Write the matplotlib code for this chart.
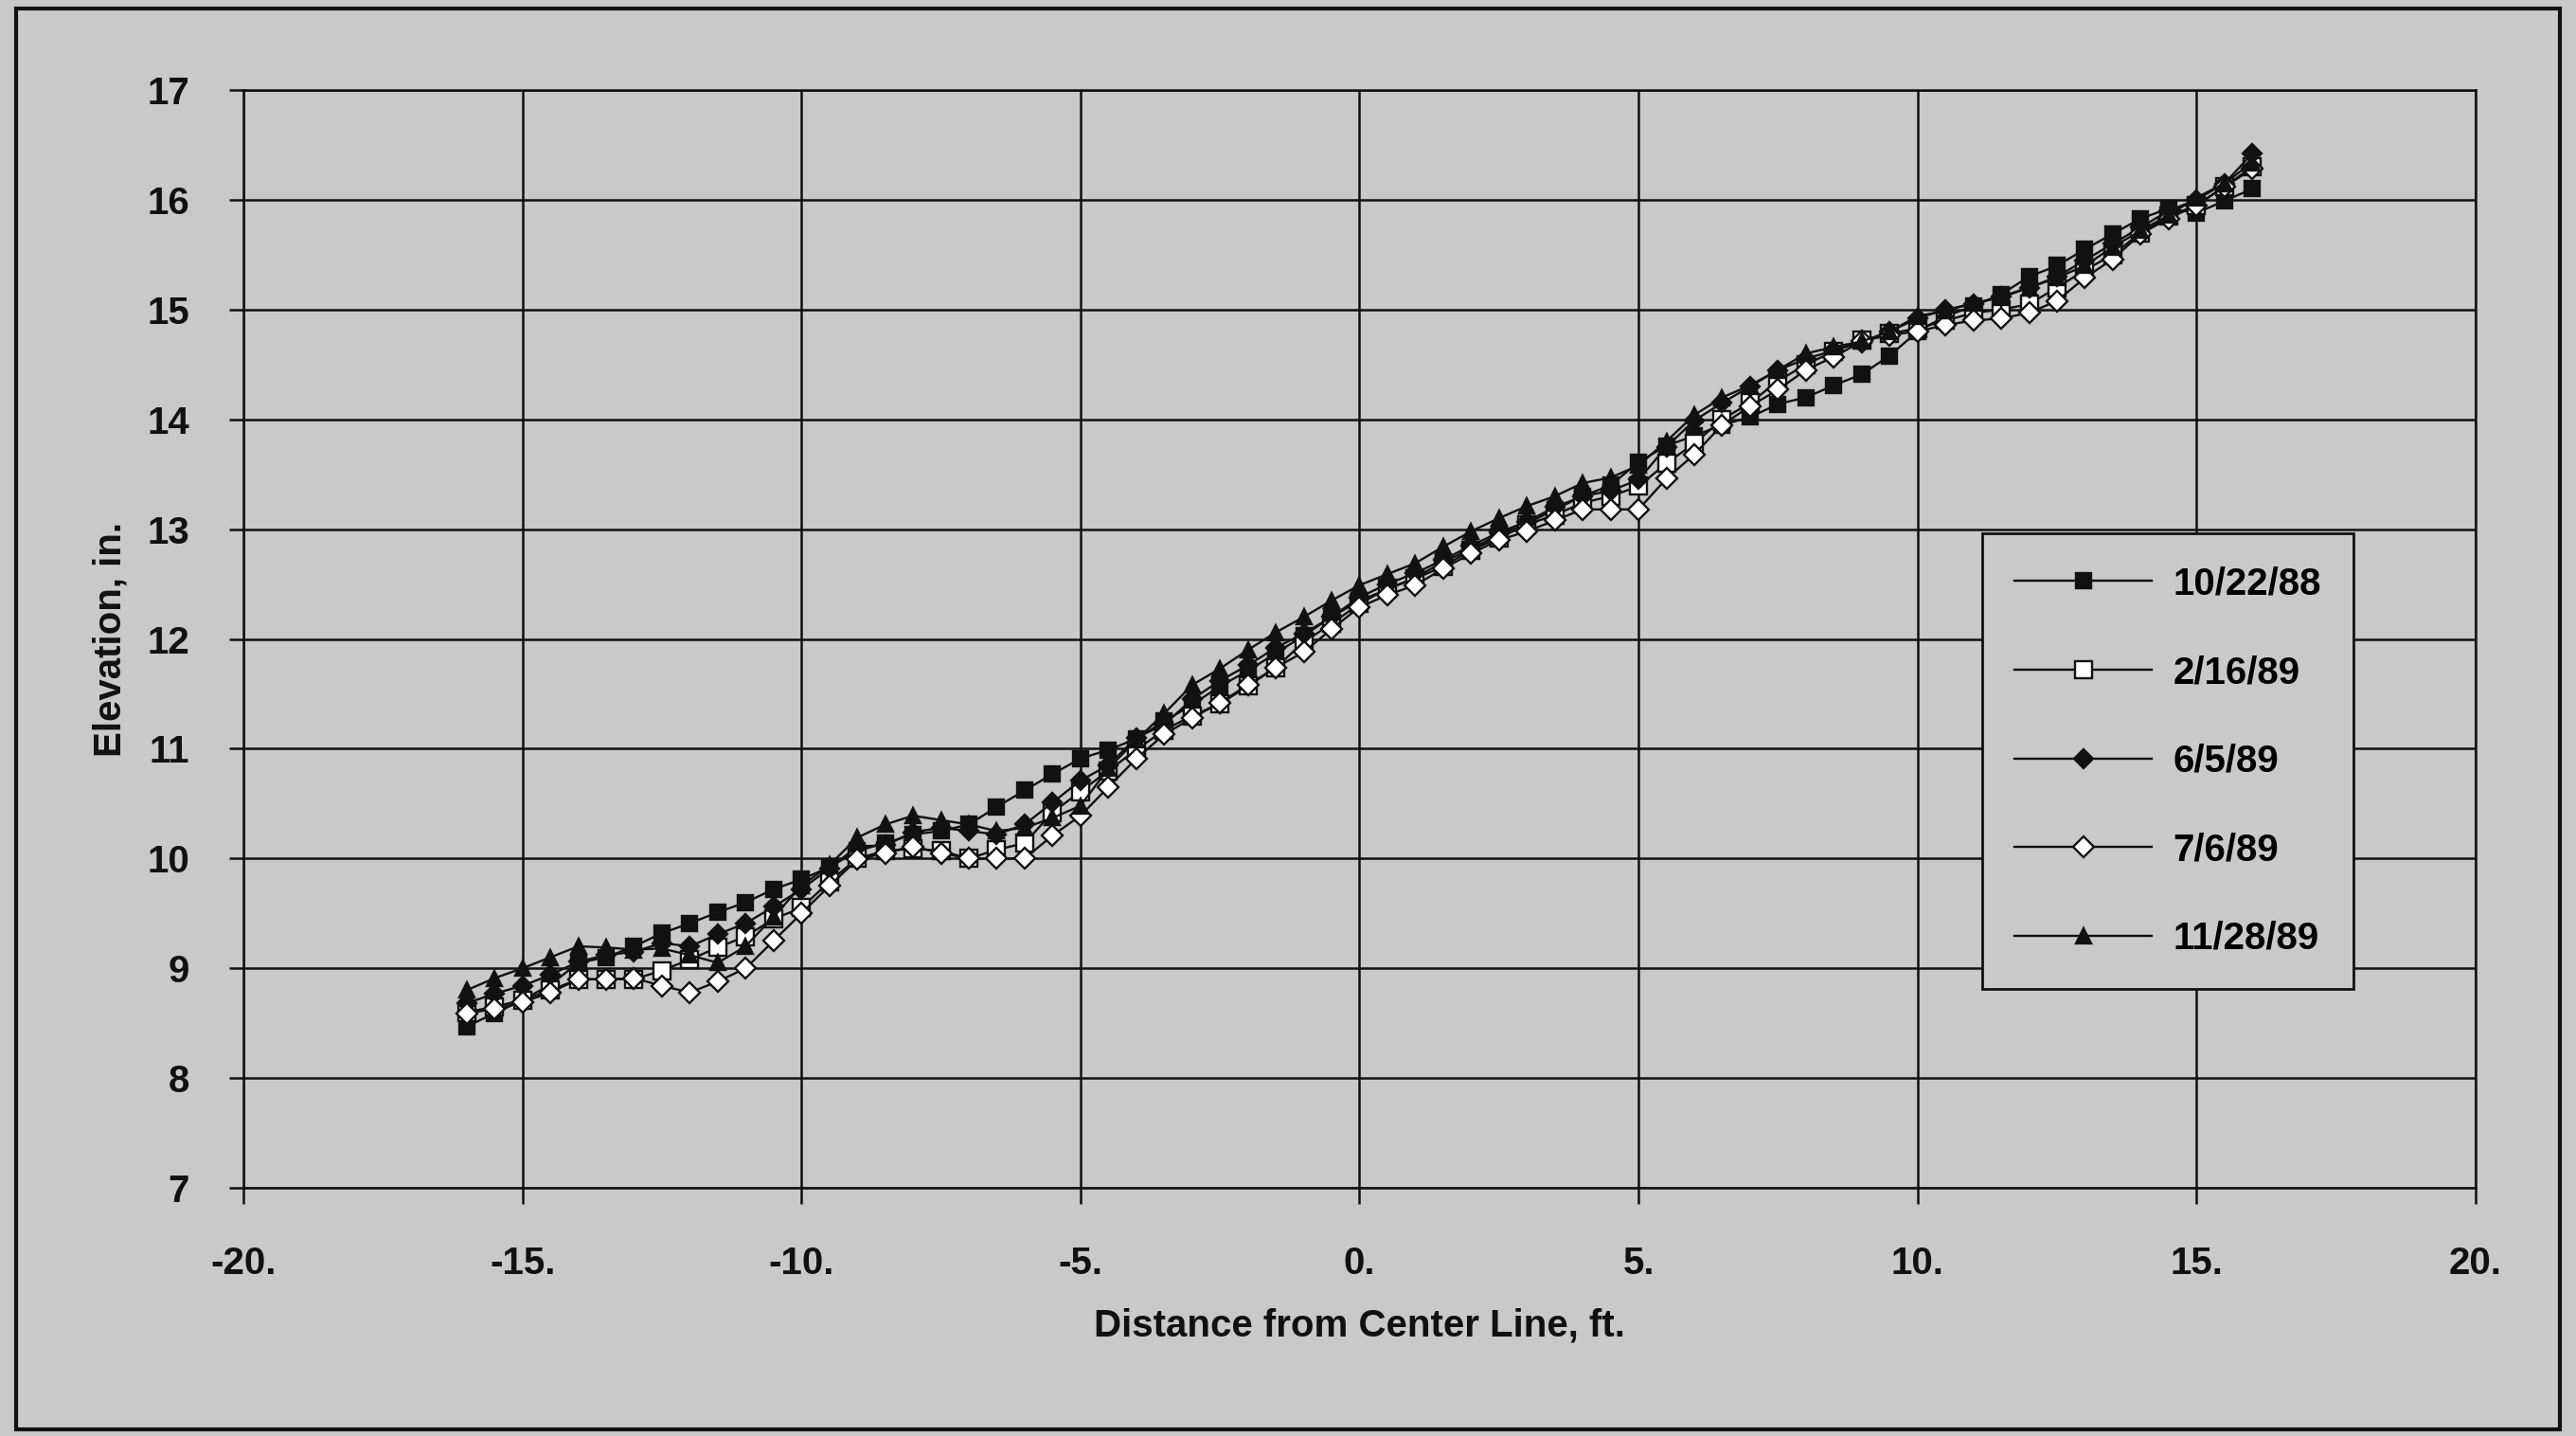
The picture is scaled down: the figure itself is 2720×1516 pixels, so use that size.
import matplotlib
matplotlib.use("Agg")
import matplotlib.pyplot as plt
from matplotlib.patches import Rectangle

# distance from center line, ft (0.5 ft stations)
distance = [
    -16.0, -15.5, -15.0, -14.5, -14.0, -13.5, -13.0, -12.5, -12.0, -11.5,
    -11.0, -10.5, -10.0, -9.5, -9.0, -8.5, -8.0, -7.5, -7.0, -6.5,
    -6.0, -5.5, -5.0, -4.5, -4.0, -3.5, -3.0, -2.5, -2.0, -1.5,
    -1.0, -0.5, 0.0, 0.5, 1.0, 1.5, 2.0, 2.5, 3.0, 3.5,
    4.0, 4.5, 5.0, 5.5, 6.0, 6.5, 7.0, 7.5, 8.0, 8.5,
    9.0, 9.5, 10.0, 10.5, 11.0, 11.5, 12.0, 12.5, 13.0, 13.5,
    14.0, 14.5, 15.0, 15.5, 16.0,
]

# elevation, in., one list per survey date
elev_102288 = [
    8.47, 8.59, 8.71, 8.85, 9.05, 9.10, 9.20, 9.32, 9.41, 9.51,
    9.60, 9.72, 9.81, 9.92, 10.07, 10.14, 10.22, 10.25, 10.31, 10.47,
    10.62, 10.77, 10.91, 10.99, 11.09, 11.25, 11.40, 11.57, 11.71, 11.87,
    12.03, 12.20, 12.35, 12.45, 12.56, 12.70, 12.82, 12.95, 13.05, 13.18,
    13.30, 13.40, 13.61, 13.76, 13.85, 13.95, 14.02, 14.14, 14.20, 14.31,
    14.41, 14.58, 14.80, 14.94, 15.03, 15.14, 15.30, 15.40, 15.55, 15.69,
    15.83, 15.92, 15.88, 15.99, 16.10,
]
elev_21689 = [
    8.60, 8.65, 8.71, 8.80, 8.90, 8.90, 8.90, 8.98, 9.08, 9.19,
    9.29, 9.45, 9.55, 9.79, 10.00, 10.07, 10.09, 10.07, 10.00, 10.08,
    10.14, 10.42, 10.61, 10.80, 10.99, 11.17, 11.30, 11.41, 11.57, 11.74,
    11.97, 12.14, 12.32, 12.46, 12.55, 12.66, 12.81, 12.92, 13.04, 13.13,
    13.24, 13.30, 13.39, 13.60, 13.78, 14.00, 14.15, 14.35, 14.50, 14.62,
    14.72, 14.78, 14.83, 14.90, 14.97, 15.00, 15.05, 15.20, 15.36, 15.50,
    15.70, 15.85, 15.95, 16.12, 16.30,
]
elev_6589 = [
    8.68, 8.77, 8.84, 8.94, 9.06, 9.12, 9.15, 9.23, 9.20, 9.31,
    9.41, 9.56, 9.72, 9.91, 10.11, 10.12, 10.24, 10.28, 10.25, 10.22,
    10.31, 10.51, 10.71, 10.85, 11.10, 11.22, 11.45, 11.62, 11.76, 11.92,
    12.05, 12.20, 12.38, 12.50, 12.60, 12.72, 12.85, 12.97, 13.07, 13.20,
    13.30, 13.35, 13.45, 13.75, 13.99, 14.15, 14.30, 14.45, 14.55, 14.63,
    14.70, 14.80, 14.92, 15.00, 15.05, 15.12, 15.20, 15.30, 15.45, 15.60,
    15.75, 15.90, 16.00, 16.15, 16.42,
]
elev_7689 = [
    8.59, 8.63, 8.69, 8.78, 8.90, 8.90, 8.91, 8.84, 8.78, 8.88,
    9.00, 9.25, 9.50, 9.75, 9.99, 10.05, 10.11, 10.05, 10.00, 10.00,
    10.00, 10.21, 10.39, 10.65, 10.91, 11.13, 11.28, 11.42, 11.58, 11.74,
    11.88, 12.09, 12.29, 12.40, 12.49, 12.64, 12.78, 12.90, 12.98, 13.08,
    13.18, 13.18, 13.18, 13.46, 13.68, 13.95, 14.12, 14.27, 14.45, 14.57,
    14.71, 14.77, 14.80, 14.86, 14.90, 14.92, 14.97, 15.08, 15.29, 15.46,
    15.69, 15.83, 15.95, 16.12, 16.28,
]
elev_112889 = [
    8.80, 8.91, 9.00, 9.10, 9.20, 9.19, 9.17, 9.18, 9.12, 9.05,
    9.20, 9.47, 9.75, 9.94, 10.19, 10.31, 10.39, 10.35, 10.31, 10.25,
    10.28, 10.37, 10.48, 10.82, 11.08, 11.32, 11.58, 11.73, 11.90, 12.06,
    12.20, 12.35, 12.49, 12.59, 12.69, 12.84, 12.98, 13.10, 13.21, 13.30,
    13.42, 13.47, 13.58, 13.80, 14.04, 14.20, 14.31, 14.45, 14.60, 14.66,
    14.71, 14.80, 14.94, 14.99, 15.06, 15.11, 15.20, 15.29, 15.40, 15.57,
    15.72, 15.86, 16.02, 16.15, 16.34,
]

dates = ["10/22/88", "2/16/89", "6/5/89", "7/6/89", "11/28/89"]

x_ticks = [-20, -15, -10, -5, 0, 5, 10, 15, 20]
x_tick_labels = ["-20.", "-15.", "-10.", "-5.", "0.", "5.", "10.", "15.", "20."]
y_ticks = [7, 8, 9, 10, 11, 12, 13, 14, 15, 16, 17]

paper = "#c9c9c9"
ink = "#111111"

plt.rcParams["font.family"] = ["Liberation Sans", "DejaVu Sans"]
plt.rcParams["font.weight"] = "bold"

fig = plt.figure(figsize=(27.2, 15.16), dpi=100, facecolor=paper)
ax = fig.add_axes([0.0945, 0.1728, 0.8665, 0.7645], facecolor=paper)

series = [elev_102288, elev_21689, elev_6589, elev_7689, elev_112889]
styles = [
    dict(marker="s", markersize=12, markerfacecolor=ink),
    dict(marker="s", markersize=13, markerfacecolor="white"),
    dict(marker="D", markersize=10, markerfacecolor=ink),
    dict(marker="D", markersize=11, markerfacecolor="white"),
    dict(marker="^", markersize=12, markerfacecolor=ink),
]
for vals, label, st in zip(series, dates, styles):
    ax.plot(distance, vals, color=ink, linewidth=1.7, markeredgecolor=ink,
            markeredgewidth=1.7, label=label, **st)

ax.set_xlim(-20, 20)
ax.set_ylim(7, 17)
ax.set_xticks(x_ticks)
ax.set_xticklabels(x_tick_labels)
ax.set_yticks(y_ticks)
ax.grid(True, color=ink, linewidth=1.8)
ax.set_axisbelow(True)
for sp in ax.spines.values():
    sp.set_color(ink)
    sp.set_linewidth(1.8)

ax.tick_params(axis="x", direction="out", length=12, width=1.8, pad=32,
               labelsize=29, colors=ink)
ax.tick_params(axis="y", direction="out", length=11, width=1.8, pad=30,
               labelsize=29, colors=ink)

ax.set_xlabel("Distance from Center Line, ft.", fontsize=29,
              fontweight="bold", labelpad=20, color=ink)
ax.set_ylabel("Elevation, in.", fontsize=29, fontweight="bold",
              labelpad=14, color=ink)

leg = ax.legend(loc="upper left", bbox_to_anchor=(0.779, 0.596),
                borderaxespad=0, fontsize=29, frameon=True, fancybox=False,
                facecolor=paper, edgecolor=ink, framealpha=1,
                handlelength=3.6, handletextpad=0.55, labelspacing=1.38,
                borderpad=0.85)
leg.get_frame().set_linewidth(2)
for t in leg.get_texts():
    t.set_fontweight("bold")

# scanned page border around the whole chart
fig.patches.append(Rectangle((0.00625, 0.0046), 0.9875, 0.9894,
                             transform=fig.transFigure, fill=False,
                             edgecolor=ink, linewidth=3))

fig.savefig("out.png", dpi=100, facecolor=paper)
